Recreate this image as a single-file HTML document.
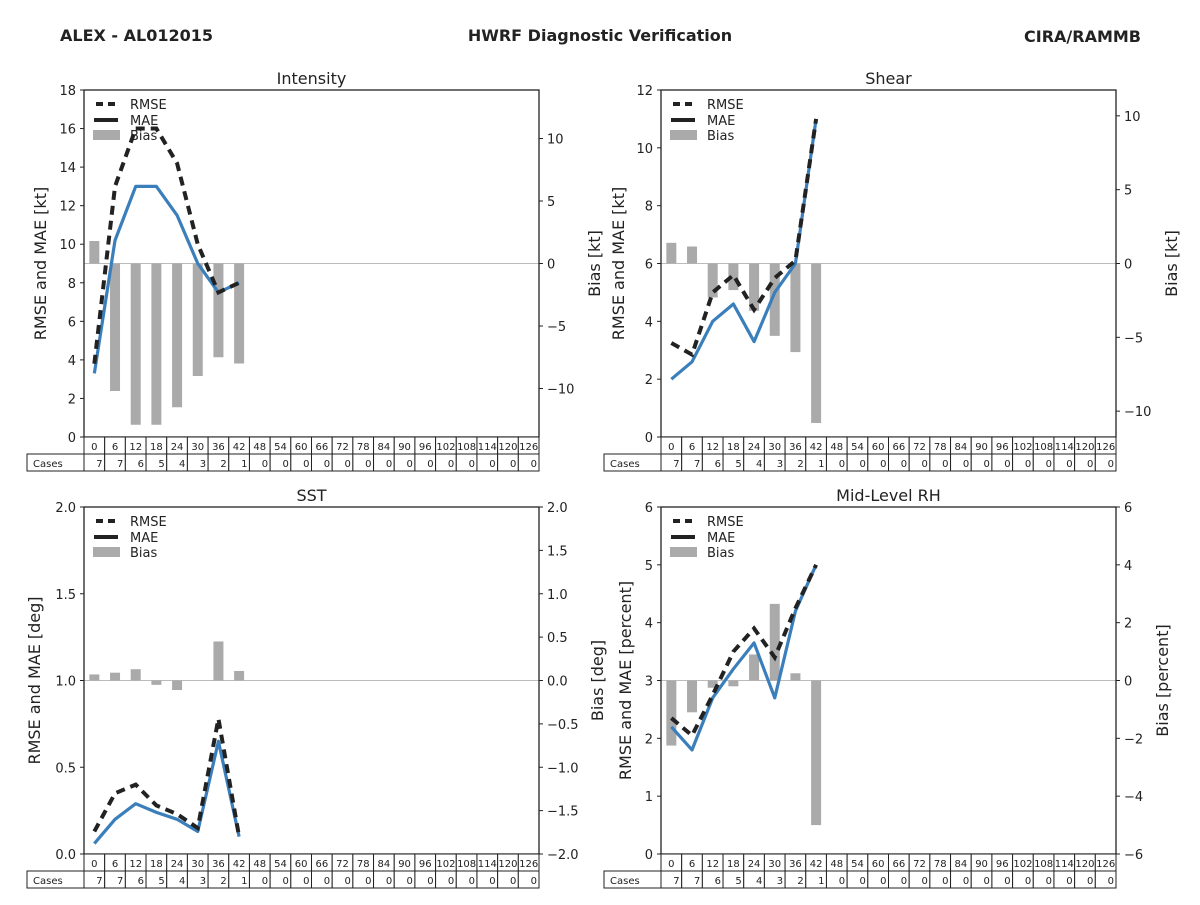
<!DOCTYPE html>
<html><head><meta charset="utf-8"><style>
body{margin:0;background:#fff;width:1200px;height:900px;overflow:hidden;font-family:"Liberation Sans","DejaVu Sans",sans-serif}
svg text{font-family:"DejaVu Sans","Liberation Sans",sans-serif;fill:#222}
</style></head><body>
<svg id="root" width="1200" height="900" xmlns="http://www.w3.org/2000/svg">
<text x="60" y="41" font-size="16" font-weight="bold">ALEX - AL012015</text>
<text x="600" y="41" font-size="16" font-weight="bold" text-anchor="middle">HWRF Diagnostic Verification</text>
<text x="1141" y="42" font-size="16" font-weight="bold" text-anchor="end">CIRA/RAMMB</text>
</svg>
<script>
const leadTimes=[0,6,12,18,24,30,36,42,48,54,60,66,72,78,84,90,96,102,108,114,120,126];
const cases=[7,7,6,5,4,3,2,1,0,0,0,0,0,0,0,0,0,0,0,0,0,0];
const intRmse=[3.8,13,16,16,14.2,10,7.5,8];
const intMae=[3.3,10.2,13,13,11.5,9,7.5,8];
const intBias=[1.8,-10.2,-12.9,-12.9,-11.5,-9.0,-7.5,-8.0];
const shrRmse=[3.25,2.85,5.0,5.6,4.4,5.5,6.1,11];
const shrMae=[2.0,2.6,4.0,4.6,3.3,5.0,6.0,11];
const shrBias=[1.4,1.15,-2.3,-1.8,-3.2,-4.9,-6.0,-10.8];
const sstRmse=[0.13,0.35,0.4,0.28,0.23,0.15,0.78,0.1];
const sstMae=[0.06,0.2,0.29,0.24,0.2,0.13,0.65,0.1];
const sstBias=[0.07,0.09,0.13,-0.05,-0.11,0.0,0.45,0.11];
const rhRmse=[2.35,2.05,2.75,3.5,3.9,3.4,4.25,5.0];
const rhMae=[2.2,1.8,2.7,3.2,3.65,2.7,4.2,5.0];
const rhBias=[-2.25,-1.1,-0.25,-0.2,0.9,2.65,0.25,-5.0];
const intTicks=[0,2,4,6,8,10,12,14,16,18];
const intBTicks=[-10,-5,0,5,10];
const shrTicks=[0,2,4,6,8,10,12];
const shrBTicks=[-10,-5,0,5,10];
const sstTicks=[0,0.5,1.0,1.5,2.0];
const sstBTicks=[-2,-1.5,-1,-0.5,0,0.5,1,1.5,2];
const rhTicks=[0,1,2,3,4,5,6];
const rhBTicks=[-6,-4,-2,0,2,4,6];

const NS="http://www.w3.org/2000/svg";
const root=document.getElementById('root');
function mk(tag,attrs,parent,text){const e=document.createElementNS(NS,tag);for(const k in attrs)e.setAttribute(k,attrs[k]);if(text!==undefined)e.textContent=text;parent.appendChild(e);return e;}
function fmtTick(v,dec){let s=v.toFixed(dec);return s.replace('-','\u2212');}

function panel(o){
  const g=mk('g',{},root);
  
  
  const L=o.x,R=o.x+455,T=o.y,B=o.y+347,W=455,H=347;
  const n=leadTimes.length,cw=W/n;
  const xs=i=>L+cw*(i+0.5);
  const ys=v=>B-(v-o.yMin)/(o.yMax-o.yMin)*H;
  const yb=v=>B-(v-o.bMin)/(o.bMax-o.bMin)*H;
  // title
  const t=mk('text',{x:(L+R)/2,y:T-6,'font-size':16,'text-anchor':'middle'},g,o.title);
  
  
  // zero line
  const z=mk('line',{x1:L,x2:R,y1:yb(0),y2:yb(0),stroke:'#bbb','stroke-width':1},g);
  
  
  // bars
  o.bias.forEach((v,i)=>{
    const y0=yb(0),y1=yb(v);
    const r=mk('rect',{x:xs(i)-5,y:Math.min(y0,y1),width:10,height:Math.abs(y1-y0),fill:'#aaaaaa'},g);
    
    
  });
  // lines
  const mae=mk('polyline',{points:o.mae.map((v,i)=>xs(i)+','+ys(v)).join(' '),fill:'none',stroke:'#3a7fbb','stroke-width':3.2,'stroke-linejoin':'round'},g);
  
  
  const rm=mk('polyline',{points:o.rmse.map((v,i)=>xs(i)+','+ys(v)).join(' '),fill:'none',stroke:'#222','stroke-width':4,'stroke-dasharray':'9,6'},g);
  
  
  // frame
  const fr=mk('rect',{x:L,y:T,width:W,height:H,fill:'none',stroke:'#222','stroke-width':1.3},g);
  
  
  // left ticks
  o.ticks.forEach(v=>{
    mk('line',{x1:L-4,x2:L,y1:ys(v),y2:ys(v),stroke:'#222'},g);
    const tt=mk('text',{x:L-8,y:ys(v)+5,'font-size':13,'text-anchor':'end'},g,fmtTick(v,o.dec));
    
    
  });
  o.bticks.forEach(v=>{
    mk('line',{x1:R,x2:R+4,y1:yb(v),y2:yb(v),stroke:'#222'},g);
    const tt=mk('text',{x:R+8,y:yb(v)+5,'font-size':13},g,fmtTick(v,o.bdec));
    
    
  });
  // axis labels
  const yl=mk('text',{transform:`translate(${o.ylx},${(T+B)/2}) rotate(-90)`,'font-size':16,'text-anchor':'middle'},g,o.ylabel);
  
  
  const bl=mk('text',{transform:`translate(${o.blx},${(T+B)/2}) rotate(-90)`,'font-size':16,'text-anchor':'middle'},g,o.blabel);
  
  
  // legend
  const lg=mk('g',{},g);
  
  
  mk('line',{x1:L+12,x2:L+33,y1:T+14,y2:T+14,stroke:'#222','stroke-width':4,'stroke-dasharray':'7,5'},lg);
  mk('text',{x:L+46,y:T+19,'font-size':13},lg,'RMSE');
  mk('line',{x1:L+10,x2:L+34,y1:T+30,y2:T+30,stroke:'#222','stroke-width':4},lg);
  mk('text',{x:L+46,y:T+35,'font-size':13},lg,'MAE');
  mk('rect',{x:L+9,y:T+40,width:27,height:10,fill:'#aaaaaa'},lg);
  mk('text',{x:L+46,y:T+50,'font-size':13},lg,'Bias');
  // table
  const tb=mk('g',{},g);
  
  
  leadTimes.forEach((lt,i)=>{
    mk('rect',{x:L+cw*i,y:B,width:cw,height:17,fill:'#fff',stroke:'#222','stroke-width':1},tb);
    const h=mk('text',{x:xs(i),y:B+13,'font-size':10,'text-anchor':'middle'},tb,lt);
    
    
    mk('rect',{x:L+cw*i,y:B+17,width:cw,height:17,fill:'#fff',stroke:'#222','stroke-width':1},tb);
    const c=mk('text',{x:L+cw*(i+1)-2,y:B+30,'font-size':10,'text-anchor':'end'},tb,cases[i]);
    
    
  });
  mk('rect',{x:L-57,y:B+17,width:57,height:17,fill:'#fff',stroke:'#222','stroke-width':1},tb);
  mk('text',{x:L-51,y:B+30,'font-size':10},tb,'Cases');
}
panel({id:'intensity',title:'Intensity',x:84,y:90,yMin:0,yMax:18,bMin:-13.88,bMax:13.88,rmse:intRmse,mae:intMae,bias:intBias,ticks:intTicks,bticks:intBTicks,dec:0,bdec:0,ylabel:'RMSE and MAE [kt]',blabel:'Bias [kt]',ylx:46,blx:600});
panel({id:'shear',title:'Shear',x:661,y:90,yMin:0,yMax:12,bMin:-11.75,bMax:11.75,rmse:shrRmse,mae:shrMae,bias:shrBias,ticks:shrTicks,bticks:shrBTicks,dec:0,bdec:0,ylabel:'RMSE and MAE [kt]',blabel:'Bias [kt]',ylx:624,blx:1177});
panel({id:'sst',title:'SST',x:84,y:507,yMin:0,yMax:2,bMin:-2,bMax:2,rmse:sstRmse,mae:sstMae,bias:sstBias,ticks:sstTicks,bticks:sstBTicks,dec:1,bdec:1,ylabel:'RMSE and MAE [deg]',blabel:'Bias [deg]',ylx:40,blx:603});
panel({id:'mid-level-rh',title:'Mid-Level RH',x:661,y:507,yMin:0,yMax:6,bMin:-6,bMax:6,rmse:rhRmse,mae:rhMae,bias:rhBias,ticks:rhTicks,bticks:rhBTicks,dec:0,bdec:0,ylabel:'RMSE and MAE [percent]',blabel:'Bias [percent]',ylx:631,blx:1168});
</script>
</body></html>
